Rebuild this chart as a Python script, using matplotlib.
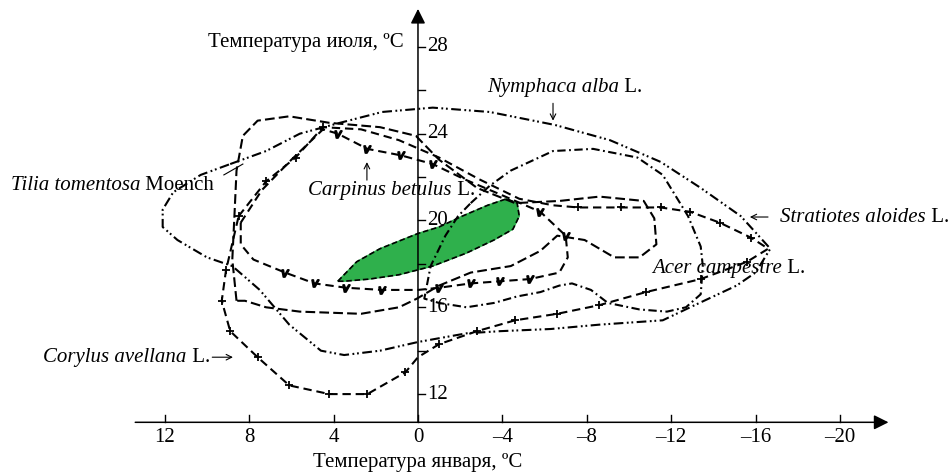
import matplotlib
matplotlib.use('Agg')
import matplotlib.pyplot as plt
import numpy as np

plt.rcParams['font.family'] = ['Liberation Serif', 'DejaVu Serif']
plt.rcParams['lines.scale_dashes'] = False

# envelopes: January temperature (x) / July temperature (y), degC
nymphaea_jan = [8.9, 7.2, 5.6, 3.7, 1.7, -0.7, -3.4, -6.5, -9.1, -11.5, -13.4, -15.3, -16.7,
                -16.0, -15.1, -14.0, -12.9, -11.6, -8.6, -6.3, -3.9, -2.3, 0.0, 1.8, 3.5, 4.6,
                6.1, 7.5, 8.8, 10.0, 11.4, 12.1, 12.1, 11.6, 10.3]
nymphaea_jul = [22.6, 23.2, 24.0, 24.5, 25.0, 25.2, 25.0, 24.4, 23.7, 22.7, 21.5, 20.2, 18.7,
                17.6, 17.0, 16.5, 16.0, 15.4, 15.2, 15.0, 14.9, 14.8, 14.4, 14.0, 13.8, 14.0,
                15.2, 16.8, 17.9, 18.3, 19.1, 19.7, 20.5, 21.3, 22.1]

corylus_jan = [8.5, 7.2, 5.8, 4.5, 2.7, 0.9, -1.0, -2.9, -4.8, -6.4, -7.6, -9.6, -11.5, -12.9,
               -14.3, -15.8, -16.6, -15.6, -13.4, -10.8, -8.6, -6.6, -4.6, -2.8, -1.0, 0.0, 0.6,
               2.4, 4.2, 6.1, 7.6, 8.9, 9.3, 9.1]
corylus_jul = [20.2, 21.8, 22.9, 24.3, 24.2, 23.7, 22.9, 21.9, 21.0, 20.7, 20.6, 20.6, 20.6, 20.4,
               19.9, 19.2, 18.7, 18.1, 17.3, 16.7, 16.1, 15.7, 15.4, 14.9, 14.3, 13.7, 13.0,
               12.0, 12.0, 12.4, 13.7, 14.9, 16.3, 17.7]
corylus_marks = [0, 1, 2, 3, 10, 11, 12, 13, 14, 15, 17, 18, 19, 20, 21, 22, 23, 24, 26, 27, 28,
                 29, 30, 31, 32, 33]

carpinus_jan = [8.4, 7.4, 6.0, 4.5, 3.8, 2.4, 0.8, -0.7, -2.2, -3.9, -5.8, -7.0, -7.1, -6.7, -5.3,
                -3.9, -2.5, -1.0, 0.0, 1.7, 3.4, 4.9, 6.3, 7.8, 8.4]
carpinus_jul = [19.9, 21.4, 22.8, 24.2, 24.0, 23.3, 23.0, 22.6, 21.9, 21.2, 20.4, 19.3, 18.3, 17.6,
                17.3, 17.2, 17.1, 16.9, 16.8, 16.8, 16.9, 17.1, 17.6, 18.2, 18.9]
carpinus_marks = [4, 5, 6, 7, 10, 11, 14, 15, 16, 17, 19, 20, 21, 22]

tilia_jan = [8.6, 8.8, 8.7, 8.6, 8.3, 7.6, 6.1, 4.2, 1.8, 0.1, -1.0, -2.8, -4.6, -6.7, -8.6, -10.7,
             -11.2, -11.3, -10.5, -9.3, -7.9, -6.6, -5.8, -4.4, -2.5, -1.0, 0.05, 0.9, 2.7, 5.6,
             7.2, 8.2]
tilia_jul = [16.3, 18.2, 20.2, 22.3, 23.9, 24.6, 24.8, 24.5, 24.3, 23.9, 22.8, 21.5, 20.8, 20.9,
             21.1, 20.9, 20.1, 18.9, 18.3, 18.3, 19.1, 19.3, 18.6, 17.9, 17.6, 17.0, 16.4, 16.0,
             15.7, 15.8, 16.0, 16.3]

acer_jan = [-2.5, -3.4, -4.4, -6.4, -8.3, -10.4, -11.6, -12.8, -13.4, -13.5, -13.4, -12.7, -11.8,
            -10.5, -9.0, -8.2, -7.3, -6.7, -5.8, -4.7, -3.6, -2.3, -1.0, -0.3, -0.6, -1.3, -1.9]
acer_jul = [20.8, 21.6, 22.3, 23.2, 23.3, 22.9, 22.1, 20.2, 18.8, 17.9, 16.6, 16.0, 15.8, 15.9,
            16.2, 16.8, 17.1, 17.0, 16.7, 16.5, 16.2, 16.0, 16.2, 16.4, 17.9, 19.3, 20.2]

# optimum zone (green)
optimum_jan = [3.8, 2.9, 1.8, 0.0, -1.0, -2.1, -3.3, -4.2, -4.7, -4.8, -4.5, -3.6, -2.3, -0.7,
               0.9, 2.3, 3.5]
optimum_jul = [17.2, 18.1, 18.7, 19.4, 19.7, 20.2, 20.7, 21.0, 20.8, 20.2, 19.6, 19.1, 18.5, 17.9,
               17.5, 17.3, 17.2]

x_ticks = [12, 8, 4, 0, -4, -8, -12, -16, -20]
y_ticks = [12, 16, 20, 24, 28]
y_minor = [14, 18, 22, 26]

fig = plt.figure(figsize=(9.52, 4.72), dpi=100)
ax = fig.add_axes([0, 0, 1, 1])
ax.set_xlim(19.81, -25.31)
ax.set_ylim(8.41, 30.16)
ax.axis('off')

x0 = 10.7  # July temperature where the January axis is drawn
ax.annotate('', xy=(-22.3, x0), xytext=(13.4, x0),
            arrowprops=dict(arrowstyle='-|>', color='black', lw=1.1, mutation_scale=22, shrinkA=0, shrinkB=0))
ax.annotate('', xy=(0, 29.75), xytext=(0, x0),
            arrowprops=dict(arrowstyle='-|>', color='black', lw=1.1, mutation_scale=22, shrinkA=0, shrinkB=0))

for t in x_ticks:
    ax.plot([t, t], [x0, x0 + 0.35], color='black', lw=1.0)
    ax.text(t, 10.0, str(t).replace('-', '–'), ha='center', va='center', fontsize=15)
for t in y_ticks + y_minor:
    ax.plot([0, -0.35], [t, t], color='black', lw=1.0)
for t in y_ticks:
    ax.text(-0.45, t, str(t), ha='left', va='center', fontsize=15)

ax.text(0.66, 28.2, 'Температура июля, ºC', ha='right', va='center', fontsize=15)
ax.text(0, 8.87, 'Температура января, ºC', ha='center', va='center', fontsize=15)


def curve(jan, jul, dashes, marks=None, marker=None, ms=7):
    xs = list(jan) + [jan[0]]
    ys = list(jul) + [jul[0]]
    ax.plot(xs, ys, color='black', lw=1.5, dashes=dashes, solid_capstyle='butt')
    if marks is not None:
        ax.plot([jan[i] for i in marks], [jul[i] for i in marks], ls='none', marker=marker,
                ms=ms, mew=1.3, color='black')


ax.fill(optimum_jan, optimum_jul, color='#2fb04c', zorder=1)
ax.plot(optimum_jan + [optimum_jan[0]], optimum_jul + [optimum_jul[0]], color='black', lw=1.2,
        dashes=(4, 2))

curve(nymphaea_jan, nymphaea_jul, (7, 2.5, 1.3, 2, 1.3, 2.5))
curve(corylus_jan, corylus_jul, (6, 3.5), corylus_marks, '+', ms=6)
curve(carpinus_jan, carpinus_jul, (6, 3.5), carpinus_marks, '$v$', ms=5)
curve(tilia_jan, tilia_jul, (7, 3))
curve(acer_jan, acer_jul, (6, 2.5, 1.3, 2.5))

fig.canvas.draw()


def species(x, y, italic, plain, size=15):
    t = ax.text(x, y, italic, style='italic', ha='left', va='center', fontsize=size)
    ax.annotate(' ' + plain, xy=(1, 0), xycoords=t, ha='left', va='bottom', fontsize=size)


species(-3.27, 26.15, 'Nymphaca alba', 'L.')
species(5.21, 21.4, 'Carpinus betulus', 'L.')
species(19.3, 21.63, 'Tilia tomentosa', 'Moench')
species(-17.16, 20.16, 'Stratiotes aloides', 'L.')
species(-11.09, 17.8, 'Acer campestre', 'L.')
species(17.75, 13.7, 'Corylus avellana', 'L.')

arrow = dict(arrowstyle='->', color='black', lw=0.8, shrinkA=0, shrinkB=0)
ax.annotate('', xy=(-6.4, 24.6), xytext=(-6.4, 25.4), arrowprops=arrow)
ax.annotate('', xy=(2.42, 22.69), xytext=(2.42, 21.86), arrowprops=arrow)
ax.annotate('', xy=(-15.73, 20.16), xytext=(-16.59, 20.16), arrowprops=arrow)
ax.annotate('', xy=(8.77, 13.7), xytext=(9.75, 13.7), arrowprops=arrow)
ax.plot([9.2, 8.3], [22.1, 22.6], color='black', lw=0.8)

fig.savefig('out.png', dpi=100)
